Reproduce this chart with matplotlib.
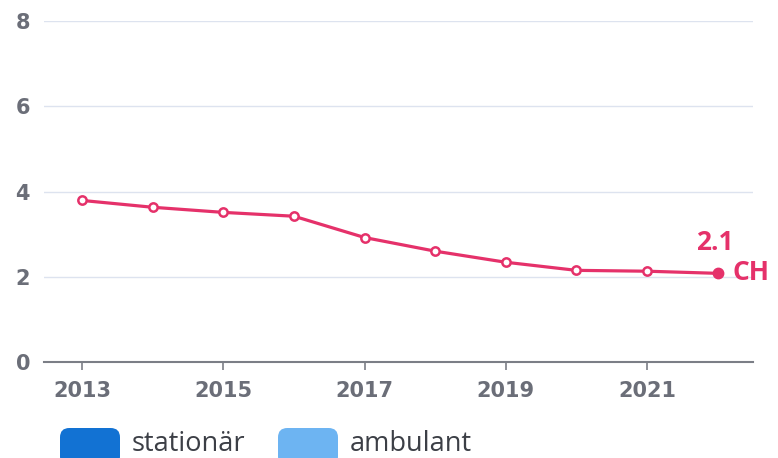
import numpy as np
import matplotlib.pyplot as plt
from matplotlib.patches import FancyBboxPatch

# Data
years = [2013, 2014, 2015, 2016, 2017, 2018, 2019, 2020, 2021, 2022]
values = [3.79, 3.63, 3.51, 3.42, 2.92, 2.60, 2.34, 2.15, 2.13, 2.08]
series_name = "CH"
legend_labels = ["stationär", "ambulant"]
legend_colors = ["#1272d3", "#6db4f2"]

line_color = "#e5316a"
tick_color = "#6b6e78"

fig = plt.figure(figsize=(7.78, 4.58), dpi=100)
ax = fig.add_axes([44 / 778, 1 - 362 / 458, (753 - 44) / 778, (362 - 21) / 458])

# Line with hollow markers, last point filled
ax.plot(years, values, color=line_color, lw=2.3, zorder=3)
ax.plot(years[:-1], values[:-1], "o", ms=6, mfc="white", mec=line_color, mew=1.8, zorder=4)
ax.plot(years[-1], values[-1], "o", ms=7.5, color=line_color, zorder=4)

# End label
ax.annotate(f"{values[-1]:.1f}", (years[-1], values[-1]), xytext=(-2, 16.5),
            textcoords="offset points", ha="center", va="baseline",
            color=line_color, fontsize=19, fontweight="bold", family="Open Sans")
ax.annotate(series_name, (years[-1], values[-1]), xytext=(11, -5),
            textcoords="offset points", ha="left", va="baseline",
            color=line_color, fontsize=19, fontweight="bold", family="Open Sans")

# Axes
ax.set_xlim(2012.46, 2022.5)
ax.set_ylim(0, 8)
ax.set_yticks([0, 2, 4, 6, 8])
ax.set_xticks([2013, 2015, 2017, 2019, 2021])
ax.grid(axis="y", color="#dde3ef", lw=1)
ax.set_axisbelow(True)
for s in ["top", "right", "left"]:
    ax.spines[s].set_visible(False)
ax.spines["bottom"].set_color("#7b7e86")
ax.spines["bottom"].set_linewidth(1.5)
ax.tick_params(axis="y", length=0, pad=10, labelcolor=tick_color, labelsize=15)
ax.tick_params(axis="x", length=6, width=1.2, color="#7b7e86", pad=8,
               labelcolor=tick_color, labelsize=15)
for lbl in ax.get_xticklabels() + ax.get_yticklabels():
    lbl.set_fontweight("bold")

# Legend (rounded boxes, cut off at the bottom)
box_x = [60, 278]
for x0, lab, col in zip(box_x, legend_labels, legend_colors):
    fig.patches.append(FancyBboxPatch((x0 / 778, 1 - 466 / 458), 60 / 778, 38 / 458,
                                      boxstyle="round,pad=0,rounding_size=0.012",
                                      transform=fig.transFigure, fc=col, ec="none",
                                      mutation_aspect=778 / 458))
    fig.text((x0 + 72) / 778, 1 - 451 / 458, lab, ha="left", va="baseline",
             fontsize=19.5, color="#3c3f46", family="Open Sans")

plt.savefig("out.png", dpi=100)
